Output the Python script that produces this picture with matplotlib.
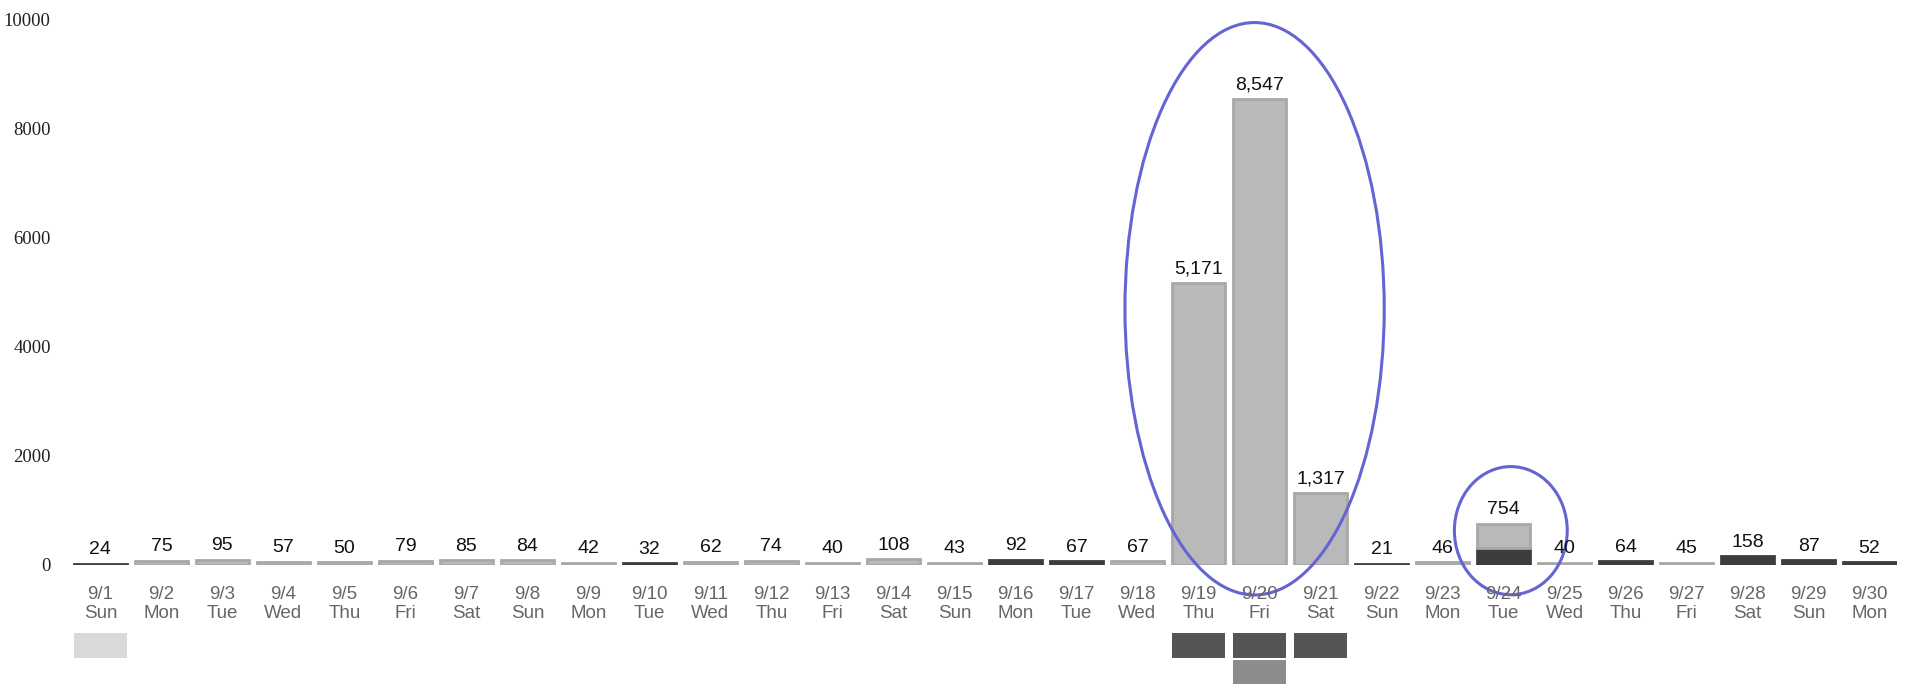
import matplotlib
matplotlib.use("Agg")
import matplotlib.pyplot as plt
import matplotlib.transforms as mtransforms
from matplotlib.patches import Ellipse, Rectangle

# ============================================
# DATA
# ============================================

dates = ["9/1", "9/2", "9/3", "9/4", "9/5", "9/6", "9/7", "9/8", "9/9", "9/10",
         "9/11", "9/12", "9/13", "9/14", "9/15", "9/16", "9/17", "9/18", "9/19", "9/20",
         "9/21", "9/22", "9/23", "9/24", "9/25", "9/26", "9/27", "9/28", "9/29", "9/30"]
weekdays = ["Sun", "Mon", "Tue", "Wed", "Thu", "Fri", "Sat", "Sun", "Mon", "Tue",
            "Wed", "Thu", "Fri", "Sat", "Sun", "Mon", "Tue", "Wed", "Thu", "Fri",
            "Sat", "Sun", "Mon", "Tue", "Wed", "Thu", "Fri", "Sat", "Sun", "Mon"]

# daily totals (labelled above each bar)
totals = [24, 75, 95, 57, 50, 79, 85, 84, 42, 32,
          62, 74, 40, 108, 43, 92, 67, 67, 5171, 8547,
          1317, 21, 46, 754, 40, 64, 45, 158, 87, 52]

# dark part of each bar, the rest is drawn light on top
dark_part = [24, 0, 0, 0, 0, 0, 0, 0, 0, 32,
             0, 0, 0, 0, 0, 92, 67, 0, 0, 0,
             0, 21, 0, 310, 0, 64, 0, 158, 87, 52]

# marker boxes under the date labels: (day, row, shade)
day_markers = [("9/1", 0, "light"), ("9/19", 0, "dark"), ("9/20", 0, "dark"),
               ("9/21", 0, "dark"), ("9/20", 1, "mid")]

# hand-drawn rings: (centre day, x shift, width in days, centre y, height) in axes units
rings = [("9/20", -0.08, 4.25, 0.47, 1.05), ("9/24", 0.12, 1.85, 0.063, 0.235)]

yticks = [0, 2000, 4000, 6000, 8000, 10000]

# ============================================
# STYLE
# ============================================

light_col = "#b9b9b9"
dark_col = "#3d3d3d"
shade = {"light": "#d9d9d9", "dark": "#555555", "mid": "#8c8c8c"}
ring_col = "#6464d4"

light_part = [t - d for t, d in zip(totals, dark_part)]
x = list(range(len(dates)))
width = 0.87

fig = plt.figure(figsize=(19.09, 6.84), dpi=100)
ax = fig.add_axes([0.0382, 0.174, 0.9555, 0.797])

# zero-height segments get no outline
ax.bar(x, dark_part, width, color=dark_col, edgecolor=dark_col,
       linewidth=[2 if v > 0 else 0 for v in dark_part])
ax.bar(x, light_part, width, bottom=dark_part, color=light_col, edgecolor="#a8a8a8",
       linewidth=[2 if v > 0 else 0 for v in light_part])

for i, t in enumerate(totals):
    ax.annotate(f"{t:,}", (i, t), xytext=(0, 4), textcoords="offset points",
                ha="center", va="bottom", fontsize=14,
                family="Liberation Sans", color="#111111")

ax.set_xlim(-0.45, len(dates) - 0.55)
ax.set_ylim(0, 10000)
ax.set_yticks(yticks)
ax.set_yticklabels([str(v) for v in yticks], family="Liberation Serif",
                   fontsize=13.5, color="#222222")
ax.set_xticks(x)
ax.set_xticklabels([f"{d}\n{w}" for d, w in zip(dates, weekdays)],
                   family="Liberation Sans", fontsize=13.5, color="#666666",
                   linespacing=1.15)
ax.tick_params(axis="y", length=0, pad=16)
ax.tick_params(axis="x", length=0, pad=15)
for s in ax.spines.values():
    s.set_visible(False)

# ============================================
# MARKERS AND RINGS
# ============================================

trans = mtransforms.blended_transform_factory(ax.transData, ax.transAxes)
for day, row, kind in day_markers:
    i = dates.index(day)
    y0 = -0.171 - row * 0.05
    ax.add_patch(Rectangle((i - width / 2, y0), width, 0.047, transform=trans,
                           facecolor=shade[kind], edgecolor="none", clip_on=False))

for day, dx, w, cy, h in rings:
    i = dates.index(day) + dx
    ax.add_patch(Ellipse((i, cy), w, h, transform=trans, fill=False,
                         edgecolor=ring_col, linewidth=2.2, clip_on=False))

fig.savefig("out.png", dpi=100)
